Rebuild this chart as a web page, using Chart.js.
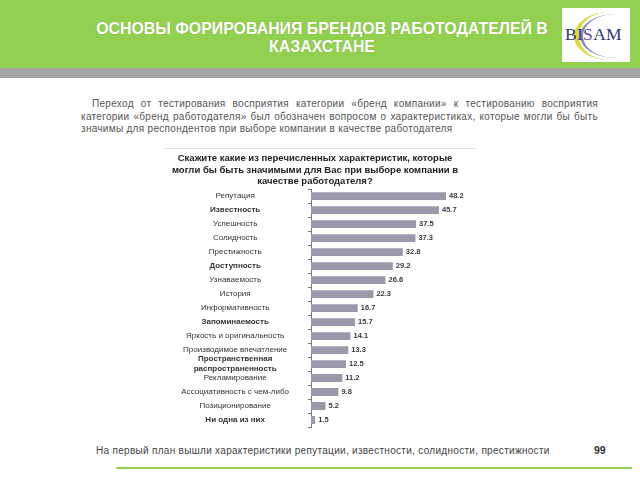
<!DOCTYPE html>
<html lang="ru">
<head>
  <meta charset="UTF-8">
  <title>Основы формирования брендов работодателей</title>
  <script src="https://cdn.jsdelivr.net/npm/chart.js"></script>
</head>
<body style="margin:0;width:640px;height:480px;background:#fff;font-family:'Liberation Sans',Arial,sans-serif;position:relative;overflow:hidden;">
  <!-- header -->
  <div style="position:absolute;left:0;top:0;width:640px;height:68px;background:#92d050;"></div>
  <div style="position:absolute;left:0;top:68px;width:640px;height:10px;background:#a5a5a5;"></div>
  <div style="position:absolute;left:52px;top:20px;width:540px;text-align:center;color:#fff;font-weight:700;font-size:15.9px;line-height:18px;text-shadow:0 0 1px rgba(0,0,0,0.2);">
    ОСНОВЫ ФОРИРОВАНИЯ БРЕНДОВ РАБОТОДАТЕЛЕЙ В<br>КАЗАХСТАНЕ
  </div>
  <!-- logo -->
  <div style="position:absolute;left:562px;top:8px;width:68px;height:54px;background:#fff;overflow:hidden;">
    <div style="position:absolute;left:12px;top:4px;width:70px;height:48px;border-radius:50%;border-left:5px solid #d8dc3a;box-sizing:border-box;"></div>
    <div style="position:absolute;left:18px;top:6px;width:70px;height:44px;border-radius:50%;border-left:3px solid #8e86c4;box-sizing:border-box;"></div>
    <div style="position:absolute;left:3px;top:16px;font-family:'Liberation Serif',serif;font-size:17.5px;color:#2f3a78;letter-spacing:0.3px;">BI<span style="color:#5a4fa0;">S</span>AM</div>
  </div>
  <!-- intro text -->
  <div style="position:absolute;left:81px;top:98px;width:517px;font-size:10px;line-height:12.5px;color:#555;text-align:justify;text-indent:11px;letter-spacing:0.3px;">
    Переход от тестирования восприятия категории «бренд компании» к тестированию восприятия категории «бренд работодателя» был обозначен вопросом о характеристиках, которые могли бы быть значимы для респондентов при выборе компании в качестве работодателя
  </div>
  <!-- chart box -->
  <div style="position:absolute;left:165px;top:148px;width:310px;height:284px;border-top:1px solid #e2e2e2;">
    <div style="position:relative;width:310px;height:284px;">
      <canvas id="brandChart"></canvas>
    </div>
  </div>
  <!-- footer -->
  <div style="position:absolute;left:96px;top:445px;font-size:10px;color:#444;letter-spacing:0.3px;">На первый план вышли характеристики репутации, известности, солидности, престижности</div>
  <div style="position:absolute;left:594px;top:444px;font-size:10.5px;font-weight:700;color:#333;">99</div>
  <div style="position:absolute;left:116px;top:467px;width:516px;height:2px;background:#92d050;"></div>

  <script>
    const categories = [
      'Репутация', 'Известность', 'Успешность', 'Солидность', 'Престижность',
      'Доступность', 'Узнаваемость', 'История', 'Информативность', 'Запоминаемость',
      'Яркость и оригинальность', 'Производимое впечатление',
      ['Пространственная', 'распространенность'],
      'Рекламирование', 'Ассоциативность с чем-либо', 'Позиционирование', 'Ни одна из них'
    ];
    const values = [48.2, 45.7, 37.5, 37.3, 32.8, 29.2, 26.6, 22.3, 16.7, 15.7, 14.1, 13.3, 12.5, 11.2, 9.8, 5.2, 1.5];
    const boldLabels = [1, 5, 9, 12, 16];
    const titleLines = [
      'Скажите какие из перечисленных характеристик, которые',
      'могли бы быть значимыми для Вас при выборе компании в',
      'качестве работодателя?'
    ];

    // value labels right of every bar
    const valueLabels = {
      id: 'valueLabels',
      afterDatasetsDraw(chart) {
        const ctx = chart.ctx;
        const meta = chart.getDatasetMeta(0);
        ctx.save();
        ctx.font = 'bold 7.5px "Liberation Sans", Arial, sans-serif';
        ctx.fillStyle = '#3a3a3a';
        ctx.textBaseline = 'middle';
        meta.data.forEach((bar, i) => {
          ctx.fillText(values[i].toFixed(1), bar.x + 3, bar.y);
        });
        ctx.restore();
      }
    };

    new Chart(document.getElementById('brandChart'), {
      type: 'bar',
      data: {
        labels: categories,
        datasets: [{
          data: values,
          backgroundColor: '#9c98ab',
          barPercentage: 0.56,
          categoryPercentage: 1
        }]
      },
      options: {
        indexAxis: 'y',
        responsive: true,
        maintainAspectRatio: false,
        animation: false,
        layout: { padding: { right: 10, bottom: 6 } },
        plugins: {
          legend: { display: false },
          tooltip: { enabled: false },
          title: {
            display: true,
            text: titleLines,
            color: '#222',
            font: { size: 9.5, weight: 'bold', family: '"Liberation Sans", Arial, sans-serif', lineHeight: 1.2 },
            padding: { top: 4, bottom: 2 }
          }
        },
        scales: {
          x: { display: false, min: 0, max: 55 },
          y: {
            afterFit(scale) {
              scale.width = 146;
              // tick padding would otherwise be added above and below the axis
              scale.paddingTop = 0;
              scale.paddingBottom = 0;
            },
            border: { color: '#777', width: 1 },
            grid: { drawOnChartArea: false, tickLength: 3, color: '#777', offset: true },
            ticks: {
              autoSkip: false,
              crossAlign: 'center',
              color: '#333',
              padding: 19,
              font: ctx => ({
                size: 8,
                family: '"Liberation Sans", Arial, sans-serif',
                weight: boldLabels.includes(ctx.index) ? 'bold' : 'normal'
              })
            }
          }
        }
      },
      plugins: [valueLabels]
    });
  </script>
</body>
</html>
